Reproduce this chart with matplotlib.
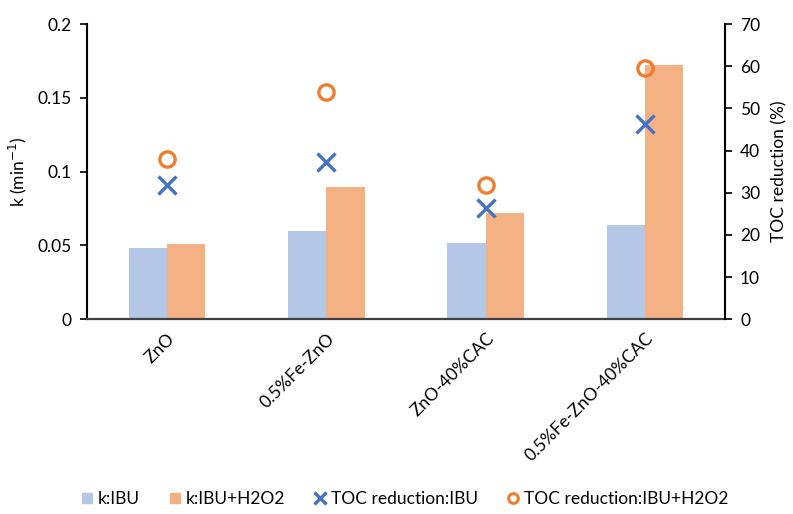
import numpy as np
import matplotlib.pyplot as plt
from matplotlib.lines import Line2D

plt.rcParams['font.family'] = ['Lato', 'DejaVu Sans']

catalysts = ['ZnO', '0.5%Fe-ZnO', 'ZnO-40%CAC', '0.5%Fe-ZnO-40%CAC']
k_ibu = [0.048, 0.060, 0.0515, 0.0637]
k_ibu_h2o2 = [0.0508, 0.0895, 0.072, 0.172]
toc_ibu = [31.8, 37.2, 26.3, 46.2]
toc_ibu_h2o2 = [38.0, 53.8, 31.9, 59.5]

c_bar1 = '#b4c7e7'
c_bar2 = '#f4b183'
c_x = '#4472c4'
c_o = '#ed7d31'
fs = 12.5

fig = plt.figure(figsize=(7.93, 5.14), dpi=100)
ax = fig.add_axes([0.110, 0.379, 0.804, 0.574])
x = np.arange(len(catalysts))
w = 0.24

ax.bar(x - w/2, k_ibu, w, color=c_bar1, zorder=2)
ax.bar(x + w/2, k_ibu_h2o2, w, color=c_bar2, zorder=2)
ax.set_ylim(0, 0.2)
ax.set_yticks([0, 0.05, 0.1, 0.15, 0.2])
ax.set_yticklabels(['0', '0.05', '0.1', '0.15', '0.2'])
ax.set_xlim(-0.5, 3.5)
ax.set_xticks(x)
ax.set_xticklabels(catalysts, rotation=45, ha='right', rotation_mode='anchor')
ax.tick_params(axis='x', length=0, pad=8, labelsize=fs)
ax.tick_params(axis='y', direction='out', length=5, width=1.2, labelsize=fs, pad=6)
ax.set_ylabel('k (min$^{-1}$)', fontsize=fs, labelpad=6)
ax.spines['top'].set_visible(False)
ax.spines['right'].set_visible(False)
ax.spines['left'].set_linewidth(1.5)
ax.spines['bottom'].set_linewidth(1.6)
ax.spines['bottom'].set_color('#404040')

ax2 = ax.twinx()
ax2.plot(x, toc_ibu, linestyle='none', marker='x', markersize=13, mew=2.4, color=c_x, zorder=3)
ax2.plot(x, toc_ibu_h2o2, linestyle='none', marker='o', markersize=11, mew=2.4,
         markerfacecolor='none', markeredgecolor=c_o, zorder=3)
ax2.set_ylim(0, 70)
ax2.set_yticks(range(0, 71, 10))
ax2.tick_params(axis='y', direction='out', length=5, width=1.2, labelsize=fs, pad=6)
ax2.set_ylabel('TOC reduction (%)', fontsize=fs, labelpad=8)
for s in ['top', 'left', 'bottom']:
    ax2.spines[s].set_visible(False)
ax2.spines['right'].set_linewidth(1.5)

handles = [
    Line2D([], [], linestyle='none', marker='s', markersize=7, color=c_bar1, label='k:IBU'),
    Line2D([], [], linestyle='none', marker='s', markersize=7, color=c_bar2, label='k:IBU+H2O2'),
    Line2D([], [], linestyle='none', marker='x', markersize=8, mew=2.4, color=c_x, label='TOC reduction:IBU'),
    Line2D([], [], linestyle='none', marker='o', markersize=7, mew=2.2, markerfacecolor='none',
           markeredgecolor=c_o, label='TOC reduction:IBU+H2O2'),
]
fig.legend(handles=handles, loc='center', bbox_to_anchor=(0.511, 0.03), ncol=4, frameon=False,
           fontsize=fs, handlelength=0.6, handletextpad=0.35, columnspacing=1.7)

plt.savefig('out.png', dpi=100)
